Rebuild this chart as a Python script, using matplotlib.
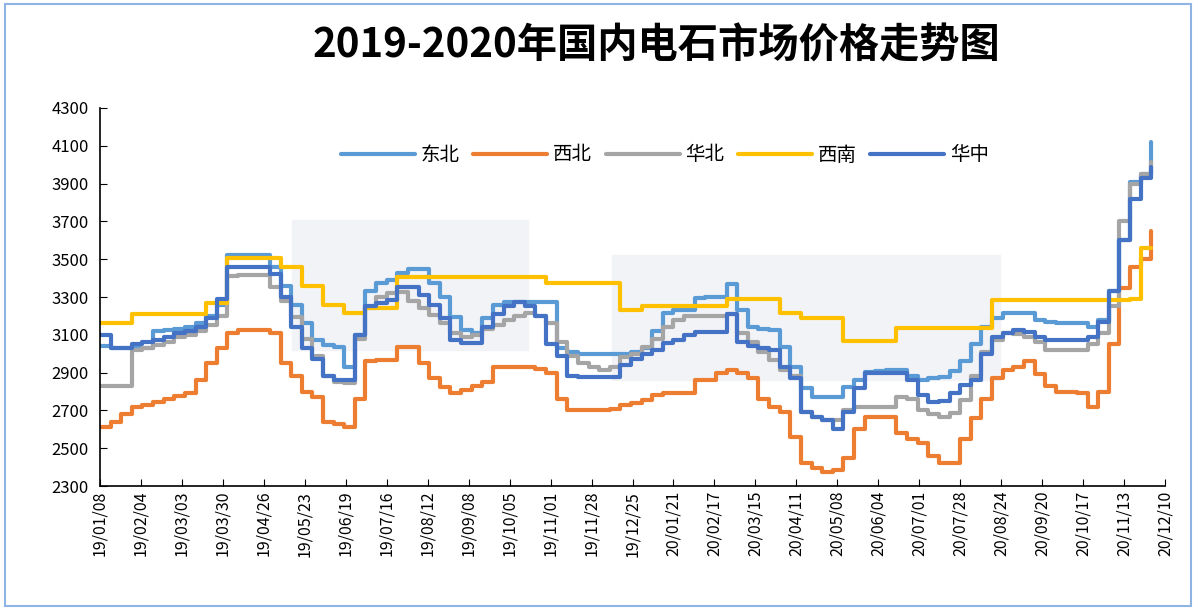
import matplotlib.pyplot as plt
import matplotlib.dates as mdates
import pandas as pd
from matplotlib.patches import Rectangle

plt.rcParams['font.family'] = ['Noto Sans CJK SC', 'DejaVu Sans']

# weekly prices, 2019-01-08 .. 2020-12-01
weeks = pd.date_range('2019-01-08', periods=100, freq='7D')

dongbei = [3040, 3030, 3030, 3030, 3030, 3120, 3125, 3130, 3140, 3160,
           3200, 3260, 3520, 3520, 3520, 3520, 3460, 3360, 3260, 3160,
           3070, 3045, 3035, 2930, 3100, 3330, 3375, 3390, 3425, 3450,
           3450, 3375, 3300, 3195, 3125, 3110, 3190, 3260, 3275, 3275,
           3275, 3275, 3275, 3030, 3010, 3000, 3000, 3000, 3000, 3000,
           3010, 3030, 3120, 3215, 3230, 3230, 3295, 3300, 3300, 3370,
           3230, 3140, 3130, 3125, 3035, 2930, 2820, 2770, 2770, 2770,
           2825, 2860, 2905, 2910, 2915, 2915, 2880, 2860, 2870, 2875,
           2910, 2960, 3050, 3140, 3190, 3215, 3215, 3215, 3180, 3170,
           3165, 3160, 3160, 3140, 3180, 3330, 3600, 3910, 3950, 4120]

xibei = [2610, 2640, 2680, 2720, 2730, 2745, 2760, 2775, 2790, 2860,
         2950, 3030, 3110, 3125, 3125, 3125, 3110, 2950, 2880, 2800,
         2770, 2640, 2630, 2610, 2760, 2960, 2965, 2965, 3035, 3035,
         2950, 2870, 2825, 2790, 2810, 2830, 2850, 2930, 2930, 2930,
         2930, 2920, 2900, 2760, 2700, 2700, 2700, 2700, 2710, 2730,
         2740, 2755, 2780, 2790, 2790, 2790, 2860, 2860, 2900, 2915,
         2900, 2870, 2760, 2720, 2690, 2560, 2420, 2395, 2375, 2385,
         2450, 2600, 2665, 2665, 2665, 2580, 2550, 2525, 2460, 2420,
         2420, 2550, 2660, 2760, 2870, 2915, 2930, 2960, 2890, 2830,
         2800, 2795, 2790, 2720, 2800, 3050, 3350, 3460, 3500, 3650]

huabei = [2830, 2830, 2830, 3020, 3030, 3045, 3060, 3090, 3100, 3120,
          3150, 3200, 3410, 3415, 3415, 3415, 3355, 3280, 3195, 3080,
          2990, 2880, 2850, 2845, 3080, 3240, 3300, 3320, 3325, 3280,
          3240, 3205, 3160, 3110, 3090, 3100, 3130, 3150, 3180, 3200,
          3215, 3200, 3160, 3060, 2990, 2950, 2930, 2915, 2930, 2980,
          3000, 3035, 3080, 3140, 3180, 3200, 3200, 3200, 3200, 3210,
          3110, 3060, 3010, 2965, 2915, 2880, 2690, 2665, 2650, 2650,
          2700, 2720, 2720, 2720, 2720, 2770, 2760, 2700, 2680, 2665,
          2685, 2755, 2880, 3010, 3070, 3110, 3105, 3090, 3060, 3020,
          3020, 3020, 3020, 3050, 3110, 3250, 3700, 3900, 3950, 4015]

xinan = [3160, 3160, 3160, 3210, 3210, 3210, 3210, 3210, 3210, 3210,
         3270, 3270, 3505, 3505, 3505, 3505, 3505, 3460, 3460, 3360,
         3360, 3260, 3260, 3215, 3215, 3240, 3240, 3240, 3405, 3405,
         3405, 3405, 3405, 3405, 3405, 3405, 3405, 3405, 3405, 3405,
         3405, 3405, 3375, 3375, 3375, 3375, 3375, 3375, 3375, 3230,
         3230, 3255, 3255, 3255, 3255, 3255, 3255, 3255, 3255, 3290,
         3290, 3290, 3290, 3290, 3215, 3215, 3190, 3190, 3190, 3190,
         3065, 3065, 3065, 3065, 3065, 3135, 3135, 3135, 3135, 3135,
         3135, 3135, 3135, 3135, 3285, 3285, 3285, 3285, 3285, 3285,
         3285, 3285, 3285, 3285, 3285, 3285, 3285, 3290, 3560, 3560]

huazhong = [3100, 3030, 3030, 3050, 3060, 3070, 3090, 3110, 3120, 3140,
            3190, 3290, 3460, 3460, 3460, 3460, 3420, 3300, 3140, 3030,
            2970, 2880, 2860, 2860, 3100, 3250, 3270, 3285, 3355, 3355,
            3310, 3260, 3190, 3070, 3055, 3055, 3140, 3210, 3250, 3275,
            3255, 3200, 3050, 2990, 2880, 2877, 2877, 2877, 2877, 2940,
            2970, 3000, 3020, 3055, 3070, 3100, 3115, 3115, 3115, 3210,
            3060, 3040, 3030, 3020, 2930, 2870, 2690, 2665, 2650, 2600,
            2690, 2820, 2900, 2900, 2900, 2900, 2860, 2780, 2745, 2750,
            2790, 2835, 2860, 3000, 3090, 3110, 3125, 3115, 3090, 3070,
            3070, 3070, 3070, 3090, 3170, 3330, 3600, 3820, 3930, 3990]

names = ['东北', '西北', '华北', '西南', '华中']
colors = ['#5B9BD5', '#ED7D31', '#A5A5A5', '#FFC000', '#4472C4']
series = [dongbei, xibei, huabei, xinan, huazhong]

tick_dates = pd.date_range('2019-01-08', '2020-12-10', freq='27D')

fig = plt.figure(figsize=(11.96, 6.10), dpi=100)
ax = fig.add_axes([100 / 1196, 1 - 486 / 610, 1065 / 1196, 378 / 610])

# faint watermark boxes behind the lines
ax.add_patch(Rectangle((292 / 1196, 1 - 350 / 610), 236 / 1196, 130 / 610,
                       transform=fig.transFigure, color='#f2f3f7', zorder=0))
ax.add_patch(Rectangle((612 / 1196, 1 - 380 / 610), 388 / 1196, 125 / 610,
                       transform=fig.transFigure, color='#f2f3f7', zorder=0))

for name, vals, c in zip(names, series, colors):
    ax.plot(weeks, vals, color=c, lw=3, drawstyle='steps-post', label=name,
            solid_capstyle='round', zorder=2)

ax.set_xlim(pd.Timestamp('2019-01-08'), pd.Timestamp('2020-12-10'))
ax.set_ylim(2300, 4300)
ax.set_yticks(range(2300, 4301, 200))
ax.set_xticks(tick_dates)
ax.xaxis.set_major_formatter(mdates.DateFormatter('%y/%m/%d'))
ax.tick_params(axis='x', rotation=90, labelsize=11.5, direction='in', length=5)
ax.tick_params(axis='y', labelsize=12, direction='in', length=5, pad=8)
for s in ['top', 'right']:
    ax.spines[s].set_visible(False)
for s in ['left', 'bottom']:
    ax.spines[s].set_linewidth(1.2)

ax.legend(loc='center', bbox_to_anchor=(665 / 1196, 1 - 155 / 610),
          bbox_transform=fig.transFigure, ncol=5, frameon=False,
          fontsize=14, handlelength=3.8, handletextpad=0.3, columnspacing=0.7)

fig.text(656 / 1196, 1 - 46 / 610, '2019-2020年国内电石市场价格走势图',
         ha='center', va='center', fontsize=29, fontweight='bold')

fig.patches.append(Rectangle((0.004, 0.007), 0.992, 0.986, transform=fig.transFigure,
                             fill=False, edgecolor='#8eb4e3', lw=1.5))

fig.savefig('out.png', dpi=100)
